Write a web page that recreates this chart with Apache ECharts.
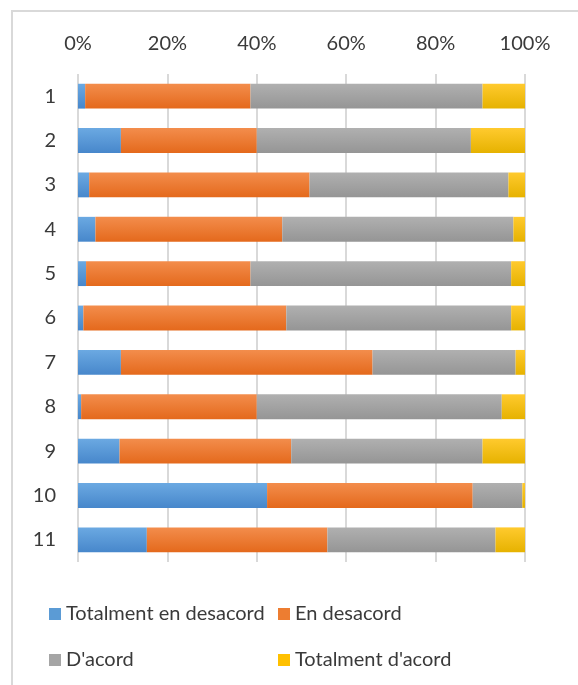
<!DOCTYPE html>
<html>
<head>
<meta charset="utf-8">
<script src="https://cdn.jsdelivr.net/npm/echarts@6/dist/echarts.min.js"></script>
<style>
  html, body { margin: 0; padding: 0; background: #fff; }
  #chart { width: 578px; height: 685px; }
</style>
</head>
<body>
<div id="chart"></div>
<script>
var categories = ['1', '2', '3', '4', '5', '6', '7', '8', '9', '10', '11']
var seriesNames = ['Totalment en desacord', 'En desacord', "D'acord", "Totalment d'acord"]

// percentages per question
var totalDesacord = [1.6, 9.6, 2.5, 3.9, 1.8, 1.2, 9.6, 0.7, 9.3, 42.3, 15.4]
var desacord = [37.0, 30.4, 49.3, 41.8, 36.8, 45.4, 56.3, 39.3, 38.4, 46.0, 40.4]
var acord = [51.9, 47.9, 44.5, 51.7, 58.3, 50.3, 32.0, 54.8, 42.8, 11.1, 37.6]
var totalAcord = [9.5, 12.1, 3.7, 2.6, 3.1, 3.1, 2.1, 5.2, 9.5, 0.6, 6.6]

var xTicks = [0, 20, 40, 60, 80, 100]

var font = 'Lato'
var textColor = '#3a3a3a'

function grad(top, bottom) {
  return new echarts.graphic.LinearGradient(0, 0, 0, 1, [
    { offset: 0, color: top },
    { offset: 1, color: bottom }
  ])
}

var colors = [
  ['#6ba9e2', '#4787cb', '#5b9bd5'],
  ['#f38d4c', '#e4691c', '#ed7d31'],
  ['#b0b0b0', '#959595', '#a5a5a5'],
  ['#ffca2e', '#e6b200', '#ffc000']
]
var values = [totalDesacord, desacord, acord, totalAcord]

var chart = echarts.init(document.getElementById('chart'))

function legendAt(left, names) {
  return {
    orient: 'vertical',
    left: left,
    top: 603,
    padding: 0,
    icon: 'rect',
    itemWidth: 12,
    itemHeight: 12,
    itemGap: 24,
    data: names.map(n => ({ name: n, itemStyle: { color: colors[seriesNames.indexOf(n)][2] } })),
    textStyle: { fontFamily: font, fontSize: 20, color: textColor, lineHeight: 22 }
  }
}

var option = {
  animation: false,
  color: colors.map(c => c[2]),
  graphic: [
    {
      type: 'rect',
      shape: { x: 12, y: 11, width: 600, height: 700 },
      style: { fill: 'none', stroke: '#d9d9d9', lineWidth: 2 },
      z: -1
    }
  ],
  grid: { left: 78, right: 53, top: 74, bottom: 123 },
  legend: [
    legendAt(49, [seriesNames[0], seriesNames[2]]),
    legendAt(278, [seriesNames[1], seriesNames[3]])
  ],
  xAxis: {
    type: 'value',
    position: 'top',
    min: xTicks[0],
    max: xTicks[xTicks.length - 1],
    interval: 20,
    axisLine: { show: false },
    axisTick: { show: false },
    axisLabel: {
      formatter: '{value}%',
      fontFamily: font,
      fontSize: 20,
      color: textColor,
      margin: 20
    },
    splitLine: { lineStyle: { color: '#d9d9d9', width: 2 } }
  },
  yAxis: {
    type: 'category',
    inverse: true,
    data: categories,
    axisLine: { show: false },
    axisTick: { show: false },
    axisLabel: {
      fontFamily: font,
      fontSize: 20,
      color: textColor,
      margin: 22
    }
  },
  series: seriesNames.map((name, i) => ({
    name: name,
    type: 'bar',
    stack: 'total',
    barWidth: '56%',
    data: values[i],
    itemStyle: {
      color: grad(colors[i][0], colors[i][1])
    }
  }))
}

chart.setOption(option)
</script>
</body>
</html>
